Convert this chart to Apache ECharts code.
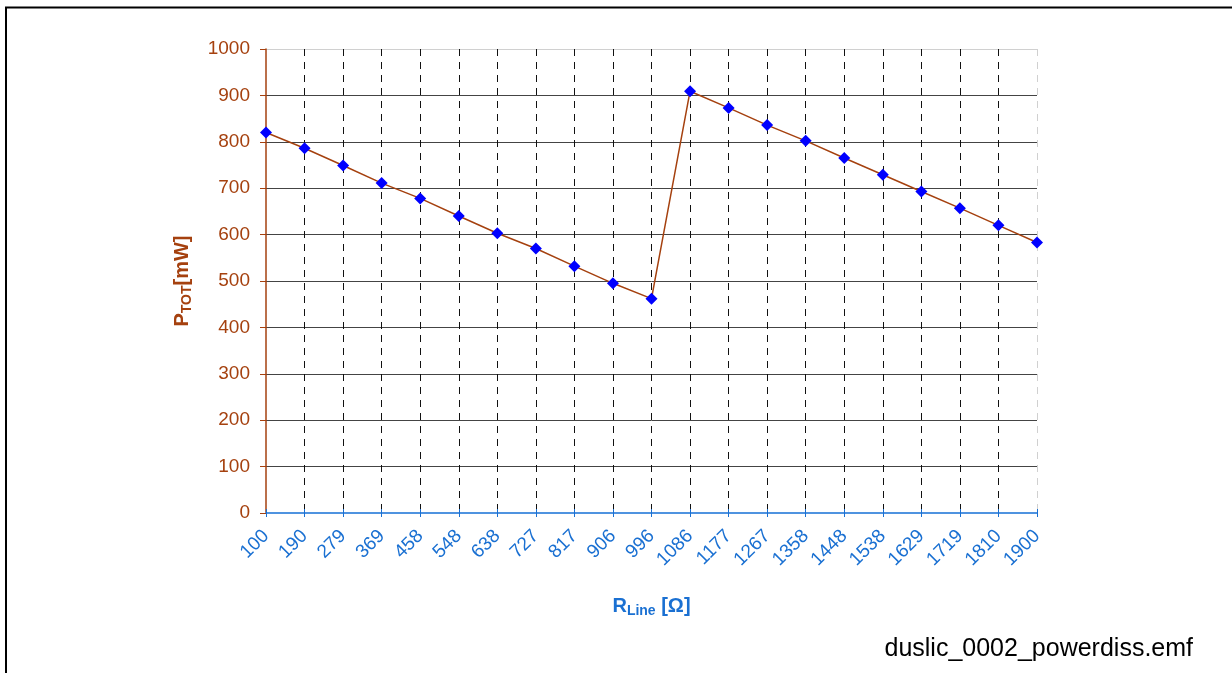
<!DOCTYPE html>
<html>
<head>
<meta charset="utf-8">
<script src="https://cdn.jsdelivr.net/npm/echarts@6/dist/echarts.min.js"></script>
<style>
  html, body { margin: 0; padding: 0; background: #fff; }
  #chart { width: 1232px; height: 673px; }
</style>
</head>
<body>
<div id="chart"></div>
<script>
// line resistance categories
const rLine = ["100", "190", "279", "369", "458", "548", "638", "727", "817", "906", "996",
  "1086", "1177", "1267", "1358", "1448", "1538", "1629", "1719", "1810", "1900"];
// total power dissipation [mW]
const pTot = [820, 786, 749, 711, 678, 640, 603, 570, 532, 495, 462,
  909, 873, 836, 802, 765, 729, 693, 657, 620, 583];
const yTicks = [0, 100, 200, 300, 400, 500, 600, 700, 800, 900, 1000];

const brown = "#a5410f";
const blue = "#1a70d2";
const font = "Liberation Sans, Arial, sans-serif";

const mychart = echarts.init(document.getElementById("chart"));

// first vertical line sits under the y axis, last one is faded like the top horizontal one
const vColors = rLine.map((_, i) =>
  i === 0 ? "rgba(0,0,0,0)" : i === rLine.length - 1 ? "#d0d0d0" : "#111");
const hColors = yTicks.map((_, i) => (i === yTicks.length - 1 ? "#d0d0d0" : "#444"));

mychart.setOption({
  animation: false,
  textStyle: { fontFamily: font },
  grid: { left: 266, right: 195, top: 49, bottom: 160 },
  graphic: [
    {
      type: "polyline",
      shape: { points: [[6, 680], [6, 7.5], [1240, 7.5]] },
      style: { stroke: "#000", lineWidth: 2, fill: null },
    },
    {
      type: "text",
      right: 39,
      top: 637,
      style: { text: "duslic_0002_powerdiss.emf", fontSize: 25, fill: "#000", fontFamily: font },
    },
  ],
  xAxis: [
    {
      type: "category",
      boundaryGap: false,
      data: rLine,
      name: "{r|R}{s|Line}{r| [Ω]}",
      nameLocation: "middle",
      nameGap: 82,
      nameTextStyle: {
        rich: {
          r: { fontSize: 20, fontWeight: "bold", color: blue },
          s: { fontSize: 14, fontWeight: "bold", color: blue, verticalAlign: "bottom", padding: [9, 0, 0, 0] },
        },
      },
      axisLine: { lineStyle: { color: "#4f93e0", width: 2 } },
      axisTick: { show: true, length: 4, lineStyle: { color: blue } },
      axisLabel: { rotate: 45, fontSize: 19, color: blue, margin: 20 },
      splitLine: { show: true, lineStyle: { color: vColors, type: [7, 6], width: 1 } },
    },
    {
      type: "category",
      boundaryGap: false,
      data: rLine,
      position: "bottom",
      axisLine: { show: false },
      axisTick: { show: true, inside: true, length: 4, lineStyle: { color: blue } },
      axisLabel: { show: false },
      splitLine: { show: false },
    },
  ],
  yAxis: {
    type: "value",
    min: 0,
    max: 1000,
    interval: 100,
    name: "{p|P}{s|TOT}{p|[mW]}",
    nameLocation: "middle",
    nameRotate: 90,
    nameGap: 72,
    nameTextStyle: {
      rich: {
        p: { fontSize: 20, fontWeight: "bold", color: brown },
        s: { fontSize: 14, fontWeight: "bold", color: brown, verticalAlign: "bottom", padding: [9, 0, 0, 0] },
      },
    },
    axisLine: { show: true, lineStyle: { color: brown, width: 1.5 } },
    axisTick: { show: true, length: 6, lineStyle: { color: brown } },
    axisLabel: { fontSize: 19, color: brown, margin: 16, formatter: (v) => String(v) },
    splitLine: { show: true, lineStyle: { color: hColors, width: 1 } },
  },
  series: [
    {
      type: "line",
      data: pTot,
      symbol: "diamond",
      symbolSize: 12,
      itemStyle: { color: "#0000ff" },
      lineStyle: { color: brown, width: 1.5 },
      z: 5,
    },
  ],
});
</script>
</body>
</html>
